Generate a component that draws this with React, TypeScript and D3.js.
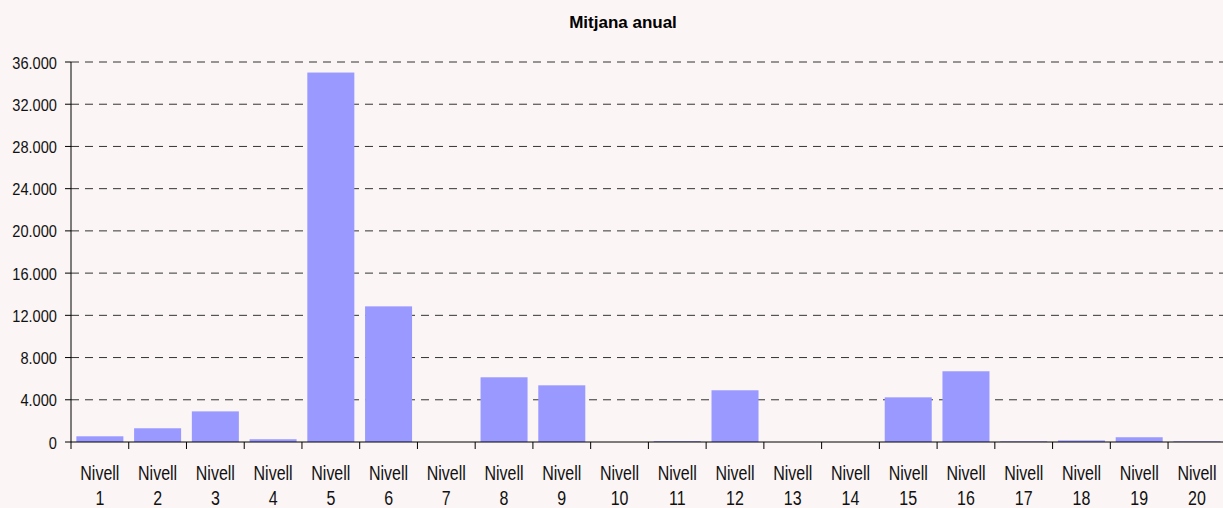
import React from "react";
import * as d3 from "d3";

const categories = Array.from({ length: 20 }, (_, i) => `Nivell ${i + 1}`);
const values = [540, 1300, 2900, 260, 35000, 12850, 0, 6130, 5370, 0, 80, 4900, 0, 0, 4230, 6700, 60, 150, 450, 60];
const yTicks = [0, 4000, 8000, 12000, 16000, 20000, 24000, 28000, 32000, 36000];
const title = "Mitjana anual";

export default function App() {
  const W = 1223, H = 508;
  const left = 71, right = 1225.8, top = 62, bottom = 442;
  const x = d3.scaleBand().domain(categories).range([left, right]).paddingInner(0.186).paddingOuter(0.093);
  const xb = d3.scaleBand().domain(categories).range([left, right]);
  const y = d3.scaleLinear().domain([0, 36000]).range([bottom, top]);
  const fmt = (v: number) => d3.format(",")(v).replace(/,/g, ".");
  const font = "'Liberation Sans', Arial, sans-serif";
  return (
    <svg width={W} height={H} style={{ position: "absolute", left: 0, top: 0, background: "#fbf5f5" }} fontFamily={font}>
      <rect x={0} y={0} width={W} height={H} fill="#fbf5f5" />
      <text x={623} y={28} textAnchor="middle" fontWeight="bold" fontSize={17} fill="#000">{title}</text>
      {yTicks.map((t) => (
        <g key={t}>
          {t > 0 && <line x1={left} x2={W} y1={y(t)} y2={y(t)} stroke="#333" strokeDasharray="8,6" strokeWidth={1} />}
          <line x1={65} x2={left} y1={y(t)} y2={y(t)} stroke="#000" />
          <text transform={`translate(57,${y(t) + 6.5}) scale(0.86,1)`} textAnchor="end" fontSize={17} fill="#111">{fmt(t)}</text>
        </g>
      ))}
      {categories.map((c, i) => (
        <rect key={c} x={x(c)} y={y(values[i])} width={x.bandwidth()} height={bottom - y(values[i])} fill="#9999ff" />
      ))}
      <line x1={left} x2={left} y1={top} y2={bottom} stroke="#000" />
      <line x1={left} x2={W} y1={bottom} y2={bottom} stroke="#000" />
      {categories.map((c) => (
        <line key={"t" + c} x1={xb(c)} x2={xb(c)} y1={bottom} y2={bottom + 7} stroke="#000" />
      ))}
      {categories.map((c) => {
        const cx = (xb(c) as number) + xb.bandwidth() / 2;
        const [a, b] = c.split(" ");
        return (
          <g key={"l" + c} transform={`translate(${cx},0) scale(0.82,1)`}>
            <text textAnchor="middle" fontSize={19.5} fill="#111">
              <tspan x={0} y={480}>{a}</tspan>
              <tspan x={0} y={505}>{b}</tspan>
            </text>
          </g>
        );
      })}
    </svg>
  );
}
